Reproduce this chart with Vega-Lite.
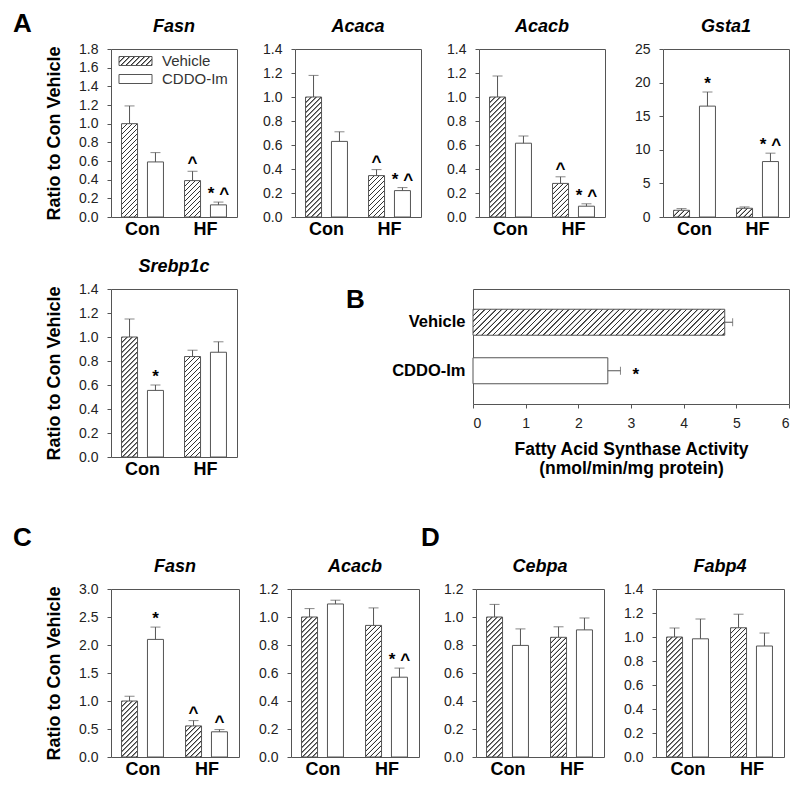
{
"$schema":"https://vega.github.io/schema/vega-lite/v6.json",
"background":"white",
"padding":{"left":13,"top":10,"right":0,"bottom":0},
"params":[{"name":"hatch","value":[
{"offset":0,"color":"#fff"},{"offset":0.002,"color":"#333"},{"offset":0.005,"color":"#333"},{"offset":0.007,"color":"#fff"},
{"offset":0.02,"color":"#fff"},{"offset":0.022,"color":"#333"},{"offset":0.025,"color":"#333"},{"offset":0.027,"color":"#fff"},
{"offset":0.04,"color":"#fff"},{"offset":0.042,"color":"#333"},{"offset":0.045,"color":"#333"},{"offset":0.047,"color":"#fff"},
{"offset":0.06,"color":"#fff"},{"offset":0.062,"color":"#333"},{"offset":0.065,"color":"#333"},{"offset":0.067,"color":"#fff"},
{"offset":0.08,"color":"#fff"},{"offset":0.082,"color":"#333"},{"offset":0.085,"color":"#333"},{"offset":0.087,"color":"#fff"},
{"offset":0.1,"color":"#fff"},{"offset":0.102,"color":"#333"},{"offset":0.105,"color":"#333"},{"offset":0.107,"color":"#fff"},
{"offset":0.12,"color":"#fff"},{"offset":0.122,"color":"#333"},{"offset":0.125,"color":"#333"},{"offset":0.127,"color":"#fff"},
{"offset":0.14,"color":"#fff"},{"offset":0.142,"color":"#333"},{"offset":0.145,"color":"#333"},{"offset":0.147,"color":"#fff"},
{"offset":0.16,"color":"#fff"},{"offset":0.162,"color":"#333"},{"offset":0.165,"color":"#333"},{"offset":0.167,"color":"#fff"},
{"offset":0.18,"color":"#fff"},{"offset":0.182,"color":"#333"},{"offset":0.185,"color":"#333"},{"offset":0.187,"color":"#fff"},
{"offset":0.2,"color":"#fff"},{"offset":0.202,"color":"#333"},{"offset":0.205,"color":"#333"},{"offset":0.207,"color":"#fff"},
{"offset":0.22,"color":"#fff"},{"offset":0.222,"color":"#333"},{"offset":0.225,"color":"#333"},{"offset":0.227,"color":"#fff"},
{"offset":0.24,"color":"#fff"},{"offset":0.242,"color":"#333"},{"offset":0.245,"color":"#333"},{"offset":0.247,"color":"#fff"},
{"offset":0.26,"color":"#fff"},{"offset":0.262,"color":"#333"},{"offset":0.265,"color":"#333"},{"offset":0.267,"color":"#fff"},
{"offset":0.28,"color":"#fff"},{"offset":0.282,"color":"#333"},{"offset":0.285,"color":"#333"},{"offset":0.287,"color":"#fff"},
{"offset":0.3,"color":"#fff"},{"offset":0.302,"color":"#333"},{"offset":0.305,"color":"#333"},{"offset":0.307,"color":"#fff"},
{"offset":0.32,"color":"#fff"},{"offset":0.322,"color":"#333"},{"offset":0.325,"color":"#333"},{"offset":0.327,"color":"#fff"},
{"offset":0.34,"color":"#fff"},{"offset":0.342,"color":"#333"},{"offset":0.345,"color":"#333"},{"offset":0.347,"color":"#fff"},
{"offset":0.36,"color":"#fff"},{"offset":0.362,"color":"#333"},{"offset":0.365,"color":"#333"},{"offset":0.367,"color":"#fff"},
{"offset":0.38,"color":"#fff"},{"offset":0.382,"color":"#333"},{"offset":0.385,"color":"#333"},{"offset":0.387,"color":"#fff"},
{"offset":0.4,"color":"#fff"},{"offset":0.402,"color":"#333"},{"offset":0.405,"color":"#333"},{"offset":0.407,"color":"#fff"},
{"offset":0.42,"color":"#fff"},{"offset":0.422,"color":"#333"},{"offset":0.425,"color":"#333"},{"offset":0.427,"color":"#fff"},
{"offset":0.44,"color":"#fff"},{"offset":0.442,"color":"#333"},{"offset":0.445,"color":"#333"},{"offset":0.447,"color":"#fff"},
{"offset":0.46,"color":"#fff"},{"offset":0.462,"color":"#333"},{"offset":0.465,"color":"#333"},{"offset":0.467,"color":"#fff"},
{"offset":0.48,"color":"#fff"},{"offset":0.482,"color":"#333"},{"offset":0.485,"color":"#333"},{"offset":0.487,"color":"#fff"},
{"offset":0.5,"color":"#fff"},{"offset":0.502,"color":"#333"},{"offset":0.505,"color":"#333"},{"offset":0.507,"color":"#fff"},
{"offset":0.52,"color":"#fff"},{"offset":0.522,"color":"#333"},{"offset":0.525,"color":"#333"},{"offset":0.527,"color":"#fff"},
{"offset":0.54,"color":"#fff"},{"offset":0.542,"color":"#333"},{"offset":0.545,"color":"#333"},{"offset":0.547,"color":"#fff"},
{"offset":0.56,"color":"#fff"},{"offset":0.562,"color":"#333"},{"offset":0.565,"color":"#333"},{"offset":0.567,"color":"#fff"},
{"offset":0.58,"color":"#fff"},{"offset":0.582,"color":"#333"},{"offset":0.585,"color":"#333"},{"offset":0.587,"color":"#fff"},
{"offset":0.6,"color":"#fff"},{"offset":0.602,"color":"#333"},{"offset":0.605,"color":"#333"},{"offset":0.607,"color":"#fff"},
{"offset":0.62,"color":"#fff"},{"offset":0.622,"color":"#333"},{"offset":0.625,"color":"#333"},{"offset":0.627,"color":"#fff"},
{"offset":0.64,"color":"#fff"},{"offset":0.642,"color":"#333"},{"offset":0.645,"color":"#333"},{"offset":0.647,"color":"#fff"},
{"offset":0.66,"color":"#fff"},{"offset":0.662,"color":"#333"},{"offset":0.665,"color":"#333"},{"offset":0.667,"color":"#fff"},
{"offset":0.68,"color":"#fff"},{"offset":0.682,"color":"#333"},{"offset":0.685,"color":"#333"},{"offset":0.687,"color":"#fff"},
{"offset":0.7,"color":"#fff"},{"offset":0.702,"color":"#333"},{"offset":0.705,"color":"#333"},{"offset":0.707,"color":"#fff"},
{"offset":0.72,"color":"#fff"},{"offset":0.722,"color":"#333"},{"offset":0.725,"color":"#333"},{"offset":0.727,"color":"#fff"},
{"offset":0.74,"color":"#fff"},{"offset":0.742,"color":"#333"},{"offset":0.745,"color":"#333"},{"offset":0.747,"color":"#fff"},
{"offset":0.76,"color":"#fff"},{"offset":0.762,"color":"#333"},{"offset":0.765,"color":"#333"},{"offset":0.767,"color":"#fff"},
{"offset":0.78,"color":"#fff"},{"offset":0.782,"color":"#333"},{"offset":0.785,"color":"#333"},{"offset":0.787,"color":"#fff"},
{"offset":0.8,"color":"#fff"},{"offset":0.802,"color":"#333"},{"offset":0.805,"color":"#333"},{"offset":0.807,"color":"#fff"},
{"offset":0.82,"color":"#fff"},{"offset":0.822,"color":"#333"},{"offset":0.825,"color":"#333"},{"offset":0.827,"color":"#fff"},
{"offset":0.84,"color":"#fff"},{"offset":0.842,"color":"#333"},{"offset":0.845,"color":"#333"},{"offset":0.847,"color":"#fff"},
{"offset":0.86,"color":"#fff"},{"offset":0.862,"color":"#333"},{"offset":0.865,"color":"#333"},{"offset":0.867,"color":"#fff"},
{"offset":0.88,"color":"#fff"},{"offset":0.882,"color":"#333"},{"offset":0.885,"color":"#333"},{"offset":0.887,"color":"#fff"},
{"offset":0.9,"color":"#fff"},{"offset":0.902,"color":"#333"},{"offset":0.905,"color":"#333"},{"offset":0.907,"color":"#fff"},
{"offset":0.92,"color":"#fff"},{"offset":0.922,"color":"#333"},{"offset":0.925,"color":"#333"},{"offset":0.927,"color":"#fff"},
{"offset":0.94,"color":"#fff"},{"offset":0.942,"color":"#333"},{"offset":0.945,"color":"#333"},{"offset":0.947,"color":"#fff"},
{"offset":0.96,"color":"#fff"},{"offset":0.962,"color":"#333"},{"offset":0.965,"color":"#333"},{"offset":0.967,"color":"#fff"},
{"offset":0.98,"color":"#fff"},{"offset":0.982,"color":"#333"},{"offset":0.985,"color":"#333"},{"offset":0.987,"color":"#fff"}
]}],
"config":{
"font":"Liberation Sans",
"view":{"stroke":"#555","strokeWidth":1},
"axis":{"domain":false,"grid":false,"labelOverlap":false,"tickColor":"#555","labelColor":"#222","titleColor":"#000","labelFont":"Liberation Sans","titleFont":"Liberation Sans"},
"axisBand":{"ticks":false,"labelFontSize":18,"labelFontWeight":"bold","labelPadding":3,"labelAngle":0,"labelColor":"#000"},
"axisQuantitative":{"tickSize":4,"labelFontSize":14,"labelPadding":9,"titleFontSize":18,"titleFontWeight":"bold","titlePadding":15,"labelOverlap":false},
"title":{"font":"Liberation Sans","fontSize":18,"fontStyle":"italic","fontWeight":"bold","anchor":"middle","frame":"group","offset":6,"color":"#000"}
},
"resolve":{"scale":{"stroke":"independent"},"legend":{"stroke":"independent"}},
"spacing":45,
"vconcat":[
{"resolve":{"scale":{"stroke":"independent"},"legend":{"stroke":"independent"}},
"spacing":18,
"vconcat":[
{"resolve":{"scale":{"stroke":"independent"},"legend":{"stroke":"independent"}},
"bounds":"flush","spacing":58,
"title":{"text":"A","anchor":"start","frame":"group","fontSize":26,"fontStyle":"normal","dx":-98,"offset":-19},
"hconcat":[
{"width":126,"height":168,"title":"Fasn",
"data":{"values":[
{"g":"Con","t":"Vehicle","v":1.0,"hi":1.19,"s":""},
{"g":"Con","t":"CDDO-Im","v":0.59,"hi":0.69,"s":""},
{"g":"HF","t":"Vehicle","v":0.39,"hi":0.49,"s":"^"},
{"g":"HF","t":"CDDO-Im","v":0.13,"hi":0.16,"s":"* ^"}]},
"encoding":{"x":{"field":"g","type":"nominal","title":null,"scale":{"domain":["Con","HF"],"paddingInner":0,"paddingOuter":0}},
"xOffset":{"field":"t","type":"nominal","scale":{"domain":["Vehicle","CDDO-Im"],"paddingInner":0.37,"paddingOuter":0.4}}},
"layer":[
{"mark":{"type":"bar","width":16,"stroke":"#555","strokeWidth":1,"fill":{"expr":"datum.t==='Vehicle'?{gradient:'linear',x1:0,y1:0,x2:4000/(256+pow(datum.v*93.333,2)),y2:250*93.333*datum.v/(256+pow(datum.v*93.333,2)),stops:hatch}:(datum.value==='Vehicle'?{gradient:'linear',x1:0,y1:0,x2:7.051,y2:1.923,stops:hatch}:'#fff')"}},
"encoding":{"y":{"field":"v","type":"quantitative","scale":{"domain":[0,1.8],"nice":false},"axis":{"values":[0,0.2,0.4,0.6,0.8,1,1.2,1.4,1.6,1.8],"tickCount":30,"labelOverlap":false,"format":".1f","title":"Ratio to Con Vehicle"}},
"stroke":{"field":"t","type":"nominal","scale":{"domain":["Vehicle","CDDO-Im"],"range":["#555","#555"]},
"legend":{"orient":"none","legendX":17,"legendY":4.5,"title":null,"padding":0,"symbolType":"M-3.667,-1H3.667V1H-3.667Z","symbolSize":81,"symbolStrokeWidth":1,"labelFontSize":15,"labelOffset":19,"labelColor":"#333","rowPadding":2}}}},
{"mark":{"type":"rule","stroke":"#555"},"encoding":{"y":{"field":"v","type":"quantitative"},"y2":{"field":"hi"}}},
{"mark":{"type":"tick","size":10,"thickness":1,"color":"#555"},"encoding":{"y":{"field":"hi","type":"quantitative"}}},
{"mark":{"type":"text","dy":-3,"fontSize":17,"fontWeight":"bold","baseline":"alphabetic"},"encoding":{"y":{"field":"hi","type":"quantitative"},"text":{"field":"s"}}}
]},
{"width":126,"height":168,"title":"Acaca",
"data":{"values":[
{"g":"Con","t":"Vehicle","v":1.0,"hi":1.18,"s":""},
{"g":"Con","t":"CDDO-Im","v":0.63,"hi":0.71,"s":""},
{"g":"HF","t":"Vehicle","v":0.345,"hi":0.395,"s":"^"},
{"g":"HF","t":"CDDO-Im","v":0.22,"hi":0.245,"s":"* ^"}]},
"encoding":{"x":{"field":"g","type":"nominal","title":null,"scale":{"domain":["Con","HF"],"paddingInner":0,"paddingOuter":0}},
"xOffset":{"field":"t","type":"nominal","scale":{"domain":["Vehicle","CDDO-Im"],"paddingInner":0.37,"paddingOuter":0.4}}},
"layer":[
{"mark":{"type":"bar","width":16,"stroke":"#555","strokeWidth":1,"fill":{"expr":"datum.t==='Vehicle'?{gradient:'linear',x1:0,y1:0,x2:4000/(256+pow(datum.v*120,2)),y2:250*120*datum.v/(256+pow(datum.v*120,2)),stops:hatch}:'#fff'"}},
"encoding":{"y":{"field":"v","type":"quantitative","scale":{"domain":[0,1.4],"nice":false},"axis":{"values":[0,0.2,0.4,0.6,0.8,1,1.2,1.4],"tickCount":30,"labelOverlap":false,"format":".1f","title":null}}}},
{"mark":{"type":"rule","stroke":"#555"},"encoding":{"y":{"field":"v","type":"quantitative"},"y2":{"field":"hi"}}},
{"mark":{"type":"tick","size":10,"thickness":1,"color":"#555"},"encoding":{"y":{"field":"hi","type":"quantitative"}}},
{"mark":{"type":"text","dy":-3,"fontSize":17,"fontWeight":"bold","baseline":"alphabetic"},"encoding":{"y":{"field":"hi","type":"quantitative"},"text":{"field":"s"}}}
]},
{"width":126,"height":168,"title":"Acacb",
"data":{"values":[
{"g":"Con","t":"Vehicle","v":1.0,"hi":1.175,"s":""},
{"g":"Con","t":"CDDO-Im","v":0.615,"hi":0.675,"s":""},
{"g":"HF","t":"Vehicle","v":0.28,"hi":0.335,"s":"^"},
{"g":"HF","t":"CDDO-Im","v":0.09,"hi":0.11,"s":"* ^"}]},
"encoding":{"x":{"field":"g","type":"nominal","title":null,"scale":{"domain":["Con","HF"],"paddingInner":0,"paddingOuter":0}},
"xOffset":{"field":"t","type":"nominal","scale":{"domain":["Vehicle","CDDO-Im"],"paddingInner":0.37,"paddingOuter":0.4}}},
"layer":[
{"mark":{"type":"bar","width":16,"stroke":"#555","strokeWidth":1,"fill":{"expr":"datum.t==='Vehicle'?{gradient:'linear',x1:0,y1:0,x2:4000/(256+pow(datum.v*120,2)),y2:250*120*datum.v/(256+pow(datum.v*120,2)),stops:hatch}:'#fff'"}},
"encoding":{"y":{"field":"v","type":"quantitative","scale":{"domain":[0,1.4],"nice":false},"axis":{"values":[0,0.2,0.4,0.6,0.8,1,1.2,1.4],"tickCount":30,"labelOverlap":false,"format":".1f","title":null}}}},
{"mark":{"type":"rule","stroke":"#555"},"encoding":{"y":{"field":"v","type":"quantitative"},"y2":{"field":"hi"}}},
{"mark":{"type":"tick","size":10,"thickness":1,"color":"#555"},"encoding":{"y":{"field":"hi","type":"quantitative"}}},
{"mark":{"type":"text","dy":-3,"fontSize":17,"fontWeight":"bold","baseline":"alphabetic"},"encoding":{"y":{"field":"hi","type":"quantitative"},"text":{"field":"s"}}}
]},
{"width":126,"height":168,"title":"Gsta1",
"data":{"values":[
{"g":"Con","t":"Vehicle","v":1.0,"hi":1.25,"s":""},
{"g":"Con","t":"CDDO-Im","v":16.5,"hi":18.6,"s":"*"},
{"g":"HF","t":"Vehicle","v":1.3,"hi":1.5,"s":""},
{"g":"HF","t":"CDDO-Im","v":8.25,"hi":9.5,"s":"* ^"}]},
"encoding":{"x":{"field":"g","type":"nominal","title":null,"scale":{"domain":["Con","HF"],"paddingInner":0,"paddingOuter":0}},
"xOffset":{"field":"t","type":"nominal","scale":{"domain":["Vehicle","CDDO-Im"],"paddingInner":0.37,"paddingOuter":0.4}}},
"layer":[
{"mark":{"type":"bar","width":16,"stroke":"#555","strokeWidth":1,"fill":{"expr":"datum.t==='Vehicle'?{gradient:'linear',x1:0,y1:0,x2:4000/(256+pow(datum.v*6.72,2)),y2:250*6.72*datum.v/(256+pow(datum.v*6.72,2)),stops:hatch}:'#fff'"}},
"encoding":{"y":{"field":"v","type":"quantitative","scale":{"domain":[0,25],"nice":false},"axis":{"values":[0,5,10,15,20,25],"tickCount":30,"labelOverlap":false,"format":"d","title":null}}}},
{"mark":{"type":"rule","stroke":"#555"},"encoding":{"y":{"field":"v","type":"quantitative"},"y2":{"field":"hi"}}},
{"mark":{"type":"tick","size":10,"thickness":1,"color":"#555"},"encoding":{"y":{"field":"hi","type":"quantitative"}}},
{"mark":{"type":"text","dy":-3,"fontSize":17,"fontWeight":"bold","baseline":"alphabetic"},"encoding":{"y":{"field":"hi","type":"quantitative"},"text":{"field":"s"}}}
]}
]},
{"bounds":"flush","spacing":236,
"hconcat":[
{"width":126,"height":168,"title":"Srebp1c",
"data":{"values":[
{"g":"Con","t":"Vehicle","v":1.0,"hi":1.15,"s":""},
{"g":"Con","t":"CDDO-Im","v":0.555,"hi":0.6,"s":"*"},
{"g":"HF","t":"Vehicle","v":0.837,"hi":0.89,"s":""},
{"g":"HF","t":"CDDO-Im","v":0.873,"hi":0.96,"s":""}]},
"encoding":{"x":{"field":"g","type":"nominal","title":null,"scale":{"domain":["Con","HF"],"paddingInner":0,"paddingOuter":0}},
"xOffset":{"field":"t","type":"nominal","scale":{"domain":["Vehicle","CDDO-Im"],"paddingInner":0.37,"paddingOuter":0.4}}},
"layer":[
{"mark":{"type":"bar","width":16,"stroke":"#555","strokeWidth":1,"fill":{"expr":"datum.t==='Vehicle'?{gradient:'linear',x1:0,y1:0,x2:4000/(256+pow(datum.v*120,2)),y2:250*120*datum.v/(256+pow(datum.v*120,2)),stops:hatch}:'#fff'"}},
"encoding":{"y":{"field":"v","type":"quantitative","scale":{"domain":[0,1.4],"nice":false},"axis":{"values":[0,0.2,0.4,0.6,0.8,1,1.2,1.4],"tickCount":30,"labelOverlap":false,"format":".1f","title":"Ratio to Con Vehicle"}}}},
{"mark":{"type":"rule","stroke":"#555"},"encoding":{"y":{"field":"v","type":"quantitative"},"y2":{"field":"hi"}}},
{"mark":{"type":"tick","size":10,"thickness":1,"color":"#555"},"encoding":{"y":{"field":"hi","type":"quantitative"}}},
{"mark":{"type":"text","dy":-3,"fontSize":17,"fontWeight":"bold","baseline":"alphabetic"},"encoding":{"y":{"field":"hi","type":"quantitative"},"text":{"field":"s"}}}
]},
{"width":316,"height":115,
"title":{"text":"B","anchor":"start","frame":"group","fontSize":26,"fontStyle":"normal","dx":-127,"offset":-24},
"data":{"values":[
{"t":"Vehicle","v":4.78,"hi":4.93,"s":""},
{"t":"CDDO-Im","v":2.56,"hi":2.8,"s":"*"}]},
"encoding":{"y":{"field":"t","type":"nominal","scale":{"domain":["Vehicle","CDDO-Im"],"paddingInner":0.4,"paddingOuter":0.3855},"axis":{"title":null,"labelFontSize":16.5,"labelFontWeight":"bold","labelPadding":8,"ticks":false,"labelColor":"#000"}}},
"layer":[
{"mark":{"type":"bar","height":26,"stroke":"#555","strokeWidth":1,"fill":{"expr":"datum.t==='Vehicle'?{gradient:'linear',x1:0,y1:0,x2:280*52.667*datum.v/(676+pow(datum.v*52.667,2)),y2:7280/(676+pow(datum.v*52.667,2)),stops:hatch}:'#fff'"}},
"encoding":{"x":{"field":"v","type":"quantitative","scale":{"domain":[0,6],"nice":false},"axis":{"values":[0,1,2,3,4,5,6],"tickCount":30,"labelOverlap":false,"format":"d","title":["Fatty Acid Synthase Activity","(nmol/min/mg protein)"],"titleFontSize":17.5,"titleLineHeight":19.5,"labelPadding":8,"titlePadding":10}}}},
{"mark":{"type":"rule","stroke":"#555"},"encoding":{"x":{"field":"v","type":"quantitative"},"x2":{"field":"hi"}}},
{"mark":{"type":"tick","size":8,"thickness":1,"color":"#555"},"encoding":{"x":{"field":"hi","type":"quantitative"}}},
{"mark":{"type":"text","dx":12,"dy":4,"align":"left","baseline":"middle","fontSize":17,"fontWeight":"bold"},"encoding":{"x":{"field":"hi","type":"quantitative"},"text":{"field":"s"}}}
]}
]}
]},
{"spacing":1,
"hconcat":[
{"bounds":"flush","spacing":52,
"title":{"text":"C","anchor":"start","frame":"group","fontSize":26,"fontStyle":"normal","dx":-98,"offset":7},
"hconcat":[
{"width":128,"height":168,"title":"Fasn",
"data":{"values":[
{"g":"Con","t":"Vehicle","v":1.0,"hi":1.085,"s":""},
{"g":"Con","t":"CDDO-Im","v":2.1,"hi":2.32,"s":"*"},
{"g":"HF","t":"Vehicle","v":0.555,"hi":0.65,"s":"^"},
{"g":"HF","t":"CDDO-Im","v":0.45,"hi":0.49,"s":"^"}]},
"encoding":{"x":{"field":"g","type":"nominal","title":null,"scale":{"domain":["Con","HF"],"paddingInner":0,"paddingOuter":0}},
"xOffset":{"field":"t","type":"nominal","scale":{"domain":["Vehicle","CDDO-Im"],"paddingInner":0.37,"paddingOuter":0.4}}},
"layer":[
{"mark":{"type":"bar","width":16,"stroke":"#555","strokeWidth":1,"fill":{"expr":"datum.t==='Vehicle'?{gradient:'linear',x1:0,y1:0,x2:4000/(256+pow(datum.v*56,2)),y2:250*56*datum.v/(256+pow(datum.v*56,2)),stops:hatch}:'#fff'"}},
"encoding":{"y":{"field":"v","type":"quantitative","scale":{"domain":[0,3],"nice":false},"axis":{"values":[0,0.5,1,1.5,2,2.5,3],"tickCount":30,"labelOverlap":false,"format":".1f","title":"Ratio to Con Vehicle"}}}},
{"mark":{"type":"rule","stroke":"#555"},"encoding":{"y":{"field":"v","type":"quantitative"},"y2":{"field":"hi"}}},
{"mark":{"type":"tick","size":10,"thickness":1,"color":"#555"},"encoding":{"y":{"field":"hi","type":"quantitative"}}},
{"mark":{"type":"text","dy":-3,"fontSize":17,"fontWeight":"bold","baseline":"alphabetic"},"encoding":{"y":{"field":"hi","type":"quantitative"},"text":{"field":"s"}}}
]},
{"width":128,"height":168,"title":"Acacb",
"data":{"values":[
{"g":"Con","t":"Vehicle","v":1.0,"hi":1.06,"s":""},
{"g":"Con","t":"CDDO-Im","v":1.093,"hi":1.12,"s":""},
{"g":"HF","t":"Vehicle","v":0.94,"hi":1.065,"s":""},
{"g":"HF","t":"CDDO-Im","v":0.57,"hi":0.635,"s":"* ^"}]},
"encoding":{"x":{"field":"g","type":"nominal","title":null,"scale":{"domain":["Con","HF"],"paddingInner":0,"paddingOuter":0}},
"xOffset":{"field":"t","type":"nominal","scale":{"domain":["Vehicle","CDDO-Im"],"paddingInner":0.37,"paddingOuter":0.4}}},
"layer":[
{"mark":{"type":"bar","width":16,"stroke":"#555","strokeWidth":1,"fill":{"expr":"datum.t==='Vehicle'?{gradient:'linear',x1:0,y1:0,x2:4000/(256+pow(datum.v*140,2)),y2:250*140*datum.v/(256+pow(datum.v*140,2)),stops:hatch}:'#fff'"}},
"encoding":{"y":{"field":"v","type":"quantitative","scale":{"domain":[0,1.2],"nice":false},"axis":{"values":[0,0.2,0.4,0.6,0.8,1,1.2],"tickCount":30,"labelOverlap":false,"format":".1f","title":null}}}},
{"mark":{"type":"rule","stroke":"#555"},"encoding":{"y":{"field":"v","type":"quantitative"},"y2":{"field":"hi"}}},
{"mark":{"type":"tick","size":10,"thickness":1,"color":"#555"},"encoding":{"y":{"field":"hi","type":"quantitative"}}},
{"mark":{"type":"text","dy":-3,"fontSize":17,"fontWeight":"bold","baseline":"alphabetic"},"encoding":{"y":{"field":"hi","type":"quantitative"},"text":{"field":"s"}}}
]}
]},
{"bounds":"flush","spacing":52,
"title":{"text":"D","anchor":"start","frame":"group","fontSize":26,"fontStyle":"normal","dx":-55,"offset":7},
"hconcat":[
{"width":128,"height":168,"title":"Cebpa",
"data":{"values":[
{"g":"Con","t":"Vehicle","v":1.0,"hi":1.09,"s":""},
{"g":"Con","t":"CDDO-Im","v":0.797,"hi":0.915,"s":""},
{"g":"HF","t":"Vehicle","v":0.855,"hi":0.93,"s":""},
{"g":"HF","t":"CDDO-Im","v":0.908,"hi":0.993,"s":""}]},
"encoding":{"x":{"field":"g","type":"nominal","title":null,"scale":{"domain":["Con","HF"],"paddingInner":0,"paddingOuter":0}},
"xOffset":{"field":"t","type":"nominal","scale":{"domain":["Vehicle","CDDO-Im"],"paddingInner":0.37,"paddingOuter":0.4}}},
"layer":[
{"mark":{"type":"bar","width":16,"stroke":"#555","strokeWidth":1,"fill":{"expr":"datum.t==='Vehicle'?{gradient:'linear',x1:0,y1:0,x2:4000/(256+pow(datum.v*140,2)),y2:250*140*datum.v/(256+pow(datum.v*140,2)),stops:hatch}:'#fff'"}},
"encoding":{"y":{"field":"v","type":"quantitative","scale":{"domain":[0,1.2],"nice":false},"axis":{"values":[0,0.2,0.4,0.6,0.8,1,1.2],"tickCount":30,"labelOverlap":false,"format":".1f","title":null}}}},
{"mark":{"type":"rule","stroke":"#555"},"encoding":{"y":{"field":"v","type":"quantitative"},"y2":{"field":"hi"}}},
{"mark":{"type":"tick","size":10,"thickness":1,"color":"#555"},"encoding":{"y":{"field":"hi","type":"quantitative"}}}
]},
{"width":128,"height":168,"title":"Fabp4",
"data":{"values":[
{"g":"Con","t":"Vehicle","v":1.0,"hi":1.075,"s":""},
{"g":"Con","t":"CDDO-Im","v":0.985,"hi":1.15,"s":""},
{"g":"HF","t":"Vehicle","v":1.077,"hi":1.19,"s":""},
{"g":"HF","t":"CDDO-Im","v":0.925,"hi":1.033,"s":""}]},
"encoding":{"x":{"field":"g","type":"nominal","title":null,"scale":{"domain":["Con","HF"],"paddingInner":0,"paddingOuter":0}},
"xOffset":{"field":"t","type":"nominal","scale":{"domain":["Vehicle","CDDO-Im"],"paddingInner":0.37,"paddingOuter":0.4}}},
"layer":[
{"mark":{"type":"bar","width":16,"stroke":"#555","strokeWidth":1,"fill":{"expr":"datum.t==='Vehicle'?{gradient:'linear',x1:0,y1:0,x2:4000/(256+pow(datum.v*120,2)),y2:250*120*datum.v/(256+pow(datum.v*120,2)),stops:hatch}:'#fff'"}},
"encoding":{"y":{"field":"v","type":"quantitative","scale":{"domain":[0,1.4],"nice":false},"axis":{"values":[0,0.2,0.4,0.6,0.8,1,1.2,1.4],"tickCount":30,"labelOverlap":false,"format":".1f","title":null}}}},
{"mark":{"type":"rule","stroke":"#555"},"encoding":{"y":{"field":"v","type":"quantitative"},"y2":{"field":"hi"}}},
{"mark":{"type":"tick","size":10,"thickness":1,"color":"#555"},"encoding":{"y":{"field":"hi","type":"quantitative"}}}
]}
]}
]}
]
}
